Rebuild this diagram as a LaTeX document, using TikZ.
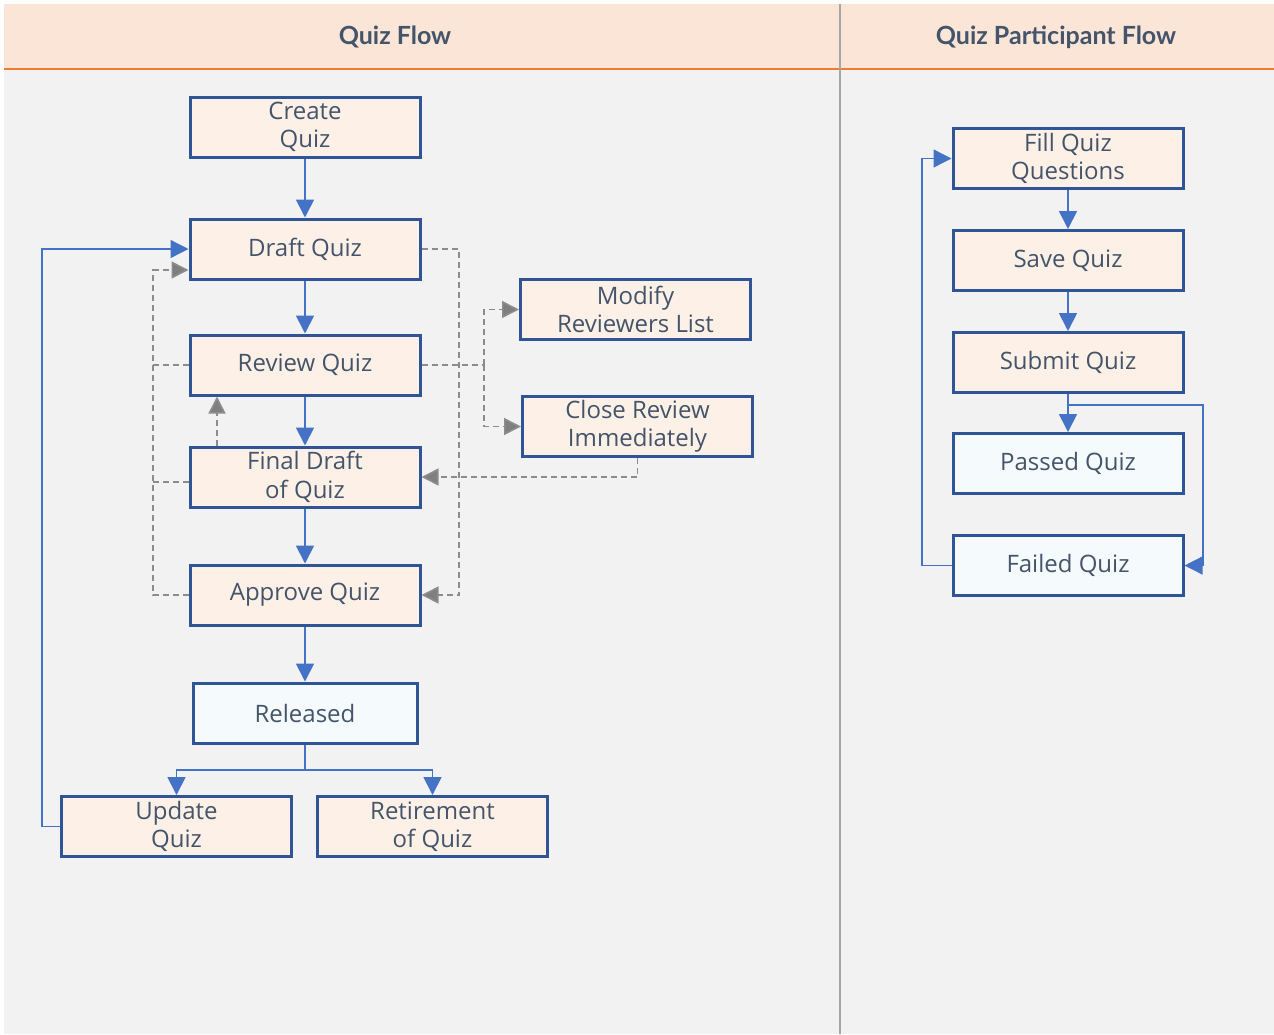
\documentclass[tikz,border=0pt]{standalone}
\usepackage{fontspec}
\setmainfont{Open Sans}
\newfontfamily\headfont{Lato}
\usetikzlibrary{arrows.meta}
\definecolor{bodygray}{HTML}{F2F2F2}
\definecolor{headpeach}{HTML}{FBE5D6}
\definecolor{orangeline}{HTML}{ED7D31}
\definecolor{sepgray}{HTML}{A6A6A6}
\definecolor{boxborder}{HTML}{2F5597}
\definecolor{boxfill}{HTML}{FDF0E7}
\definecolor{bluefill}{HTML}{F5FAFD}
\definecolor{txt}{HTML}{44546A}
\definecolor{flowblue}{HTML}{4472C4}
\definecolor{dashgray}{HTML}{8C8C8C}
\definecolor{tipgray}{HTML}{7F7F7F}
\pgfdeclarelayer{bg}
\pgfdeclarelayer{lines}
\pgfsetlayers{bg,lines,main}
\tikzset{
  box/.style={draw=boxborder, line width=3pt, fill=boxfill, minimum width=230pt, minimum height=60pt,
    inner sep=0pt, align=center, text=txt, font=\fontsize{24}{28.5}\selectfont},
  bbox/.style={box, fill=bluefill},
  head/.style={text=txt, font=\headfont\bfseries\fontsize{25}{28}\selectfont},
  flow/.style={draw=flowblue, line width=1.8pt, -{Triangle[length=18pt,width=18pt]}, color=flowblue},
  thinflow/.style={draw=flowblue, line width=1.3pt},
  thinflowarrow/.style={thinflow, -{Triangle[length=18pt,width=18pt]}, color=flowblue},
  dline/.style={draw=dashgray, line width=1.6pt, dash pattern=on 6pt off 4pt},
  darrow/.style={dline, -{Triangle[length=17pt,width=17pt,fill=tipgray]}},
}
\begin{document}
\begin{tikzpicture}[x=1pt,y=-1pt]
\useasboundingbox (0,0) rectangle (1274,1034);
\begin{pgfonlayer}{bg}
\fill[white] (0,0) rectangle (1274,1034);
\fill[bodygray] (4,68) rectangle (1274,1034);
\fill[headpeach] (4,4) rectangle (1274,68);
\draw[orangeline, line width=2.5pt] (4,69) -- (1274,69);
\draw[sepgray, line width=2pt] (840,4) -- (840,1034);
\end{pgfonlayer}
\node[head] (h1) at (395,37) {Quiz Flow};
\node[head] (h2) at (1056,37) {Quiz Participant Flow};

% left column
\node[box] (create) at (305,127) {Create\\Quiz};
\node[box] (draft) at (305,249) {Draft Quiz};
\node[box] (review) at (305,365) {Review Quiz};
\node[box] (final) at (305,477) {Final Draft\\of Quiz};
\node[box] (approve) at (305,595) {Approve Quiz};
\node[bbox, minimum width=224pt] (released) at (305,713) {Released};
\node[box] (update) at (176.5,826.5) {Update\\Quiz};
\node[box] (retire) at (432.5,826.5) {Retirement\\of Quiz};
\node[box] (modify) at (635.5,309.5) {Modify\\Reviewers List};
\node[box] (close) at (637.5,426.5) {Close Review\\Immediately};

% right column
\node[box] (fill) at (1068,158.5) {Fill Quiz\\Questions};
\node[box] (save) at (1068,260.5) {Save Quiz};
\node[box] (submit) at (1068,362.5) {Submit Quiz};
\node[bbox] (passed) at (1068,463.5) {Passed Quiz};
\node[bbox] (failed) at (1068,565.5) {Failed Quiz};

\coordinate (lbus) at (153,270);
\coordinate (rbus) at (459,249);
\coordinate (mbus) at (484,365);
\coordinate (split) at (305,770);
\coordinate (ubus) at (42,249);
\coordinate (sbus) at (1203,405);
\coordinate (fbus) at (922,565.5);

\begin{pgfonlayer}{lines}
% solid main flow
\draw[flow] (create) -- (draft);
\draw[flow] (draft) -- (review);
\draw[flow] (review) -- (final);
\draw[flow] (final) -- (approve);
\draw[flow] (approve) -- (released);
\draw[flow] (released) -- (split) -| (update.north);
\draw[flow] (split) -| (retire.north);
\draw[thinflowarrow] (update.west) -| (ubus) -- (draft.west);
% dashed
\draw[darrow] (approve.west) -| (lbus) -- ([yshift=-21pt]draft.west);
\draw[dline] (review.west) -- (review.west -| lbus);
\draw[dline] ([yshift=-5pt]final.west) -- ([yshift=-5pt]final.west -| lbus);
\draw[darrow] (draft.east) -- (rbus) |- (approve.east);
\draw[dline] (review.east) -- (mbus);
\draw[darrow] (mbus) |- (modify.west);
\draw[darrow] (mbus) |- (close.west);
\draw[darrow] (close.south) |- (final.east);
\draw[darrow] ([xshift=-88pt]final.north) -- ([xshift=-88pt]review.south);
% right
\draw[flow] (fill) -- (save);
\draw[flow] (save) -- (submit);
\draw[flow] (submit) -- (passed);
\draw[thinflowarrow] (submit.south) |- (sbus) |- (failed.east);
\draw[thinflowarrow] (failed.west) -- (fbus) |- (fill.west);
\end{pgfonlayer}
\end{tikzpicture}
\end{document}
